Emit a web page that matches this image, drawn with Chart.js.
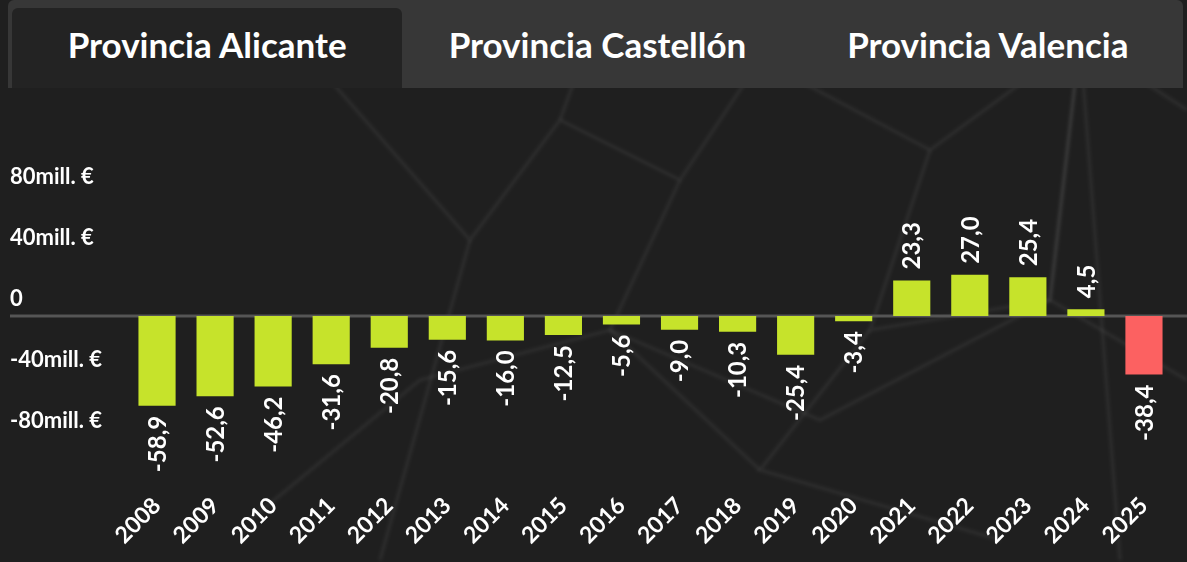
<!DOCTYPE html>
<html>
<head>
<meta charset="utf-8">
<script src="https://cdn.jsdelivr.net/npm/chart.js@4"></script>
<style>
  html, body { margin: 0; padding: 0; }
  body {
    width: 1187px; height: 562px; overflow: hidden; position: relative;
    background: #1f1f1f;
    font-family: Lato, "Noto Sans", sans-serif;
  }
  .bg { position: absolute; left: 0; top: 0; width: 1187px; height: 562px; }
  .tabs {
    position: absolute; left: 8px; top: 0; width: 1175px; height: 88px;
    background: #373737; border-radius: 6px 6px 0 0; display: flex;
  }
  .tab {
    flex: 1; color: #fff; font-weight: bold; font-size: 35px;
    display: flex; align-items: center; justify-content: center;
    padding-top: 0; box-sizing: border-box;
  }
  .tab.active {
    background: #232323; margin: 8px 0 0 4px; border-radius: 6px 6px 0 0;
    padding-bottom: 8px;
  }
  .wrap { position: absolute; left: 0; top: 88px; width: 1187px; height: 474px; }
</style>
</head>
<body>
<svg class="bg" viewBox="0 0 1187 562">
  <defs><filter id="soft"><feGaussianBlur stdDeviation="1.6"/></filter></defs>
  <g stroke="rgba(255,255,255,0.05)" stroke-width="4" fill="none" filter="url(#soft)">
    <path d="M330 80 L470 240 L560 120 L680 180 L760 60 L930 150 L1080 40 L1187 110"/>
    <path d="M470 240 L380 560 M560 120 L600 10 M680 180 L610 330 L760 470"/>
    <path d="M930 150 L870 330 L1050 300 L1080 40 L1120 560"/>
    <path d="M1080 40 L1050 300 L1187 380 M870 330 L760 470 L1000 540"/>
    <path d="M250 520 L420 380 L610 330 L820 420 L1050 300"/>
  </g>
</svg>
<div class="tabs">
  <div class="tab active">Provincia Alicante</div>
  <div class="tab">Provincia Castellón</div>
  <div class="tab">Provincia Valencia</div>
</div>
<div class="wrap"><canvas id="chart"></canvas></div>
<script>
const years = ['2008', '2009', '2010', '2011', '2012', '2013', '2014', '2015', '2016',
  '2017', '2018', '2019', '2020', '2021', '2022', '2023', '2024', '2025'];
const saldo = [-58.9, -52.6, -46.2, -31.6, -20.8, -15.6, -16.0, -12.5, -5.6,
  -9.0, -10.3, -25.4, -3.4, 23.3, 27.0, 25.4, 4.5, -38.4];
const yTicks = [-80, -40, 0, 40, 80];

const GREEN = '#c6e32b';
const RED = '#fc6161';

// linea del cero, de borde a borde
const zeroLine = {
  id: 'zeroLine',
  beforeDatasetsDraw(chart) {
    const y = chart.scales.y.getPixelForValue(0);
    const ctx = chart.ctx;
    ctx.save();
    ctx.strokeStyle = '#555555';
    ctx.lineWidth = 3;
    ctx.beginPath();
    ctx.moveTo(10, y);
    ctx.lineTo(chart.width, y);
    ctx.stroke();
    ctx.restore();
  }
};

// etiquetas verticales encima/debajo de cada barra
const barLabels = {
  id: 'barLabels',
  afterDatasetsDraw(chart) {
    const ctx = chart.ctx;
    const meta = chart.getDatasetMeta(0);
    ctx.save();
    ctx.fillStyle = '#ffffff';
    ctx.font = 'bold 24px Lato';
    ctx.textBaseline = 'middle';
    meta.data.forEach((bar, i) => {
      const v = saldo[i];
      const txt = v.toFixed(1).replace('.', ',');
      ctx.save();
      ctx.translate(bar.x, v < 0 ? bar.y + 10 : bar.y - 11);
      ctx.rotate(-Math.PI / 2);
      ctx.textAlign = v < 0 ? 'right' : 'left';
      ctx.fillText(txt, 0, 1);
      ctx.restore();
    });
    ctx.restore();
  }
};

new Chart(document.getElementById('chart'), {
  type: 'bar',
  data: {
    labels: years,
    datasets: [{
      data: saldo,
      backgroundColor: (c) => c.dataIndex === years.length - 1 ? RED : GREEN,
      categoryPercentage: 1,
      barPercentage: 0.64
    }]
  },
  options: {
    responsive: true,
    maintainAspectRatio: false,
    animation: false,
    layout: { padding: { top: 106, left: 10, right: 14, bottom: 0 } },
    plugins: { legend: { display: false }, tooltip: { enabled: false } },
    scales: {
      y: {
        min: -80, max: 80,
        afterBuildTicks: (s) => { s.ticks = yTicks.map(v => ({ value: v })); },
        afterFit: (s) => { s.width = 118; },
        grid: { display: false },
        border: { display: false },
        ticks: {
          color: '#ffffff',
          font: { family: 'Lato', size: 22, weight: 'bold' },
          crossAlign: 'far',
          padding: 0,
          labelOffset: -17,
          callback: (v) => v === 0 ? '0' : v + 'mill. €'
        }
      },
      x: {
        afterFit: (s) => { s.height = 124; s.paddingLeft = 0; s.paddingRight = 0; },
        grid: { display: false },
        border: { display: false },
        ticks: {
          color: '#ffffff',
          font: { family: 'Lato', size: 23, weight: 'bold' },
          minRotation: 45, maxRotation: 45,
          padding: 46
        }
      }
    }
  },
  plugins: [zeroLine, barLabels]
});
</script>
</body>
</html>
